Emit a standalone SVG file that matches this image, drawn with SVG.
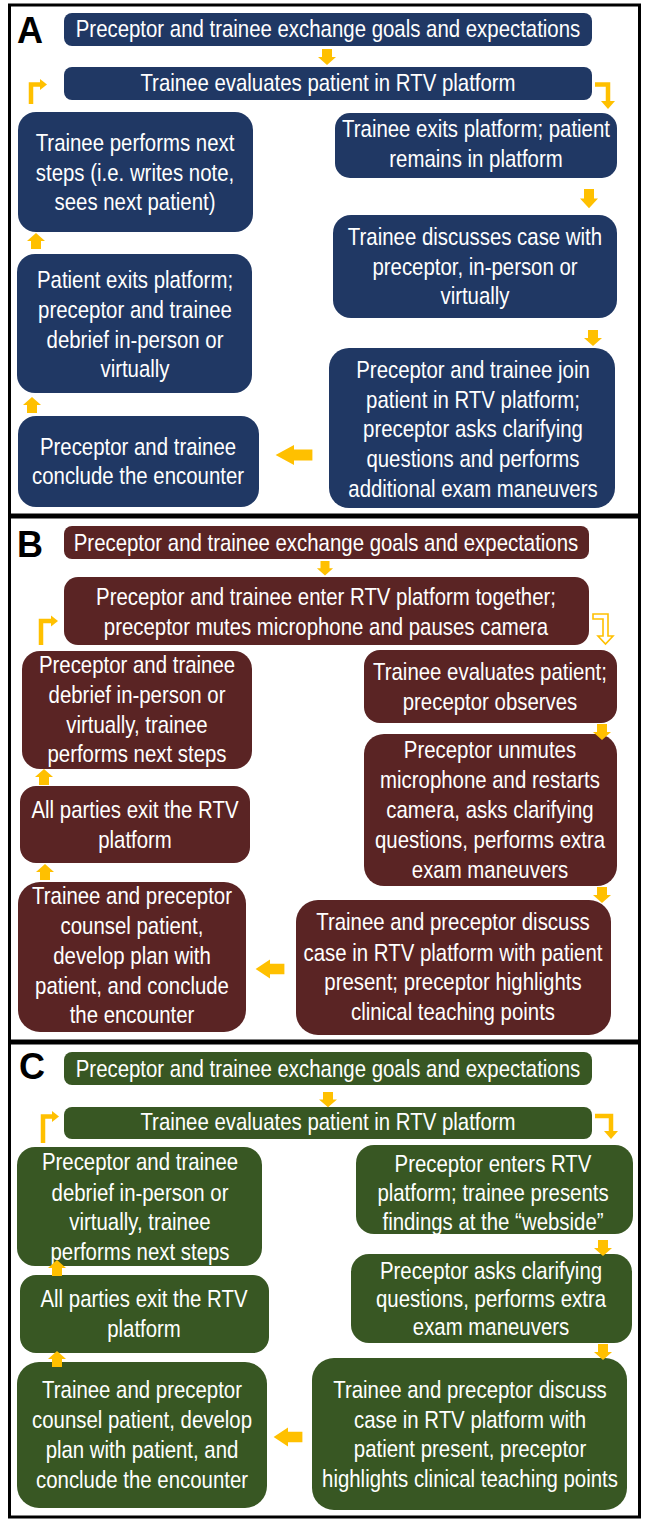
<svg xmlns="http://www.w3.org/2000/svg" width="645" height="1523" viewBox="0 0 645 1523">
<style>
.panel{fill:#fff;stroke:#000;stroke-width:3}
.a{fill:#203864}
.b{fill:#5a2424}
.c{fill:#385723}
.t{font-family:"Liberation Sans",Arial,sans-serif;font-size:24px;fill:#fff;text-anchor:middle}
.lbl{font-family:"Liberation Sans",Arial,sans-serif;font-size:36px;font-weight:bold;fill:#000}
.y{fill:#FFC000}
.el{fill:none;stroke:#FFC000;stroke-width:4.5}
</style>
<defs>
<path id="dn" d="M-5,0 H5 V8 H9 L0,16 L-9,8 H-5 Z"/>
</defs>
<rect width="645" height="1523" fill="#fff"/>
<g id="panels">
<rect class="panel" x="9.5" y="5" width="630" height="510"/>
<rect class="panel" x="9.5" y="517" width="630" height="524"/>
<rect class="panel" x="9.5" y="1043" width="630" height="474"/>
<text class="lbl" x="17" y="43">A</text>
<text class="lbl" x="17" y="557">B</text>
<text class="lbl" x="19" y="1079">C</text>
</g>

<g id="A1"><rect class="a" x="64" y="13" width="528" height="33" rx="8"/>
<g transform="translate(328 0) scale(0.85 1)"><text class="t" x="0" y="37">Preceptor and trainee exchange goals and expectations</text></g></g>
<g id="A2"><rect class="a" x="64" y="67" width="528" height="33" rx="8"/>
<g transform="translate(328 0) scale(0.85 1)"><text class="t" x="0" y="91">Trainee evaluates patient in RTV platform</text></g></g>
<g id="A3"><rect class="a" x="18" y="112" width="235" height="120" rx="18"/>
<g transform="translate(135 0) scale(0.85 1)"><text class="t"><tspan x="0" y="151">Trainee performs next</tspan><tspan x="0" y="181">steps (i.e. writes note,</tspan><tspan x="0" y="210">sees next patient)</tspan></text></g></g>
<g id="A4"><rect class="a" x="335" y="113" width="282" height="65" rx="15"/>
<g transform="translate(476 0) scale(0.85 1)"><text class="t"><tspan x="0" y="137">Trainee exits platform; patient</tspan><tspan x="0" y="167">remains in platform</tspan></text></g></g>
<g id="A5"><rect class="a" x="333" y="215" width="284" height="103" rx="18"/>
<g transform="translate(475 0) scale(0.85 1)"><text class="t"><tspan x="0" y="245">Trainee discusses case with</tspan><tspan x="0" y="275">preceptor, in-person or</tspan><tspan x="0" y="304">virtually</tspan></text></g></g>
<g id="A6"><rect class="a" x="329" y="348" width="286" height="160" rx="20"/>
<g transform="translate(473 0) scale(0.85 1)"><text class="t"><tspan x="0" y="378">Preceptor and trainee join</tspan><tspan x="0" y="408">patient in RTV platform;</tspan><tspan x="0" y="437">preceptor asks clarifying</tspan><tspan x="0" y="467">questions and performs</tspan><tspan x="0" y="497">additional exam maneuvers</tspan></text></g></g>
<g id="A7"><rect class="a" x="18" y="416" width="241" height="91" rx="18"/>
<g transform="translate(138 0) scale(0.85 1)"><text class="t"><tspan x="0" y="455">Preceptor and trainee</tspan><tspan x="0" y="484">conclude the encounter</tspan></text></g></g>
<g id="A8"><rect class="a" x="17" y="254" width="235" height="139" rx="18"/>
<g transform="translate(135 0) scale(0.85 1)"><text class="t"><tspan x="0" y="288">Patient exits platform;</tspan><tspan x="0" y="318">preceptor and trainee</tspan><tspan x="0" y="348">debrief in-person or</tspan><tspan x="0" y="377">virtually</tspan></text></g></g>

<g id="B1"><rect class="b" x="64" y="526" width="525" height="33" rx="8"/>
<g transform="translate(326 0) scale(0.85 1)"><text class="t" x="0" y="551">Preceptor and trainee exchange goals and expectations</text></g></g>
<g id="B2"><rect class="b" x="64" y="577" width="525" height="68" rx="14"/>
<g transform="translate(326 0) scale(0.85 1)"><text class="t"><tspan x="0" y="605">Preceptor and trainee enter RTV platform together;</tspan><tspan x="0" y="635">preceptor mutes microphone and pauses camera</tspan></text></g></g>
<g id="B3"><rect class="b" x="22" y="651" width="230" height="118" rx="18"/>
<g transform="translate(137 0) scale(0.85 1)"><text class="t"><tspan x="0" y="673">Preceptor and trainee</tspan><tspan x="0" y="703">debrief in-person or</tspan><tspan x="0" y="733">virtually, trainee</tspan><tspan x="0" y="762">performs next steps</tspan></text></g></g>
<g id="B4"><rect class="b" x="364" y="650" width="253" height="73" rx="16"/>
<g transform="translate(490 0) scale(0.85 1)"><text class="t"><tspan x="0" y="680">Trainee evaluates patient;</tspan><tspan x="0" y="710">preceptor observes</tspan></text></g></g>
<g id="B5"><rect class="b" x="364" y="734" width="253" height="152" rx="20"/>
<g transform="translate(490 0) scale(0.85 1)"><text class="t"><tspan x="0" y="758">Preceptor unmutes</tspan><tspan x="0" y="788">microphone and restarts</tspan><tspan x="0" y="818">camera, asks clarifying</tspan><tspan x="0" y="848">questions, performs extra</tspan><tspan x="0" y="878">exam maneuvers</tspan></text></g></g>
<g id="B6"><rect class="b" x="296" y="900" width="315" height="135" rx="22"/>
<g transform="translate(453 0) scale(0.85 1)"><text class="t"><tspan x="0" y="930">Trainee and preceptor discuss</tspan><tspan x="0" y="961">case in RTV platform with patient</tspan><tspan x="0" y="990">present; preceptor highlights</tspan><tspan x="0" y="1020">clinical teaching points</tspan></text></g></g>
<g id="B7"><rect class="b" x="18" y="882" width="228" height="150" rx="22"/>
<g transform="translate(132 0) scale(0.85 1)"><text class="t"><tspan x="0" y="904">Trainee and preceptor</tspan><tspan x="0" y="934">counsel patient,</tspan><tspan x="0" y="964">develop plan with</tspan><tspan x="0" y="994">patient, and conclude</tspan><tspan x="0" y="1023">the encounter</tspan></text></g></g>
<g id="B8"><rect class="b" x="20" y="786" width="230" height="77" rx="16"/>
<g transform="translate(135 0) scale(0.85 1)"><text class="t"><tspan x="0" y="818">All parties exit the RTV</tspan><tspan x="0" y="848">platform</tspan></text></g></g>

<g id="C1"><rect class="c" x="64" y="1052" width="528" height="33" rx="8"/>
<g transform="translate(328 0) scale(0.85 1)"><text class="t" x="0" y="1077">Preceptor and trainee exchange goals and expectations</text></g></g>
<g id="C2"><rect class="c" x="64" y="1107" width="528" height="32" rx="8"/>
<g transform="translate(328 0) scale(0.85 1)"><text class="t" x="0" y="1130">Trainee evaluates patient in RTV platform</text></g></g>
<g id="C3"><rect class="c" x="17" y="1147" width="245" height="119" rx="18"/>
<g transform="translate(140 0) scale(0.85 1)"><text class="t"><tspan x="0" y="1170">Preceptor and trainee</tspan><tspan x="0" y="1201">debrief in-person or</tspan><tspan x="0" y="1230">virtually, trainee</tspan><tspan x="0" y="1260">performs next steps</tspan></text></g></g>
<g id="C4"><rect class="c" x="356" y="1145" width="277" height="89" rx="18"/>
<g transform="translate(493 0) scale(0.85 1)"><text class="t"><tspan x="0" y="1172">Preceptor enters RTV</tspan><tspan x="0" y="1201">platform; trainee presents</tspan><tspan x="0" y="1230">findings at the “webside”</tspan></text></g></g>
<g id="C5"><rect class="c" x="351" y="1254" width="281" height="89" rx="18"/>
<g transform="translate(491 0) scale(0.85 1)"><text class="t"><tspan x="0" y="1279">Preceptor asks clarifying</tspan><tspan x="0" y="1307">questions, performs extra</tspan><tspan x="0" y="1335">exam maneuvers</tspan></text></g></g>
<g id="C6"><rect class="c" x="312" y="1358" width="315" height="152" rx="22"/>
<g transform="translate(470 0) scale(0.85 1)"><text class="t"><tspan x="0" y="1398">Trainee and preceptor discuss</tspan><tspan x="0" y="1428">case in RTV platform with</tspan><tspan x="0" y="1457">patient present, preceptor</tspan><tspan x="0" y="1487">highlights clinical teaching points</tspan></text></g></g>
<g id="C7"><rect class="c" x="17" y="1362" width="250" height="146" rx="22"/>
<g transform="translate(142 0) scale(0.85 1)"><text class="t"><tspan x="0" y="1398">Trainee and preceptor</tspan><tspan x="0" y="1428">counsel patient, develop</tspan><tspan x="0" y="1458">plan with patient, and</tspan><tspan x="0" y="1488">conclude the encounter</tspan></text></g></g>
<g id="C8"><rect class="c" x="20" y="1275" width="249" height="78" rx="16"/>
<g transform="translate(144 0) scale(0.85 1)"><text class="t"><tspan x="0" y="1307">All parties exit the RTV</tspan><tspan x="0" y="1337">platform</tspan></text></g></g>

<g id="connectors">
<!-- A -->
<use href="#dn" class="y" transform="translate(327 49)"/>
<path class="el" d="M31,104 V84.5 H41"/><path class="y" d="M40,79 L47,84.5 L40,90 Z"/>
<path class="el" d="M595,84.5 H608 V102"/><path class="y" d="M601,101 H615 L608,109 Z"/>
<use href="#dn" class="y" transform="translate(589 189) scale(1 1.2)"/>
<use href="#dn" class="y" transform="translate(593 330)"/>
<use href="#dn" class="y" transform="translate(294 455) rotate(90) scale(1.1 2.3) translate(0 -8)"/>
<use href="#dn" class="y" transform="translate(32 413) rotate(180)"/>
<use href="#dn" class="y" transform="translate(36 249) rotate(180)"/>
<!-- B -->
<use href="#dn" class="y" transform="translate(325 561) scale(0.9 0.9)"/>
<path class="el" d="M41,645 V621 H52"/><path class="y" d="M51,615.5 L58,621 L51,626.5 Z"/>
<path d="M593,614 H608 V636 H613 L605.5,644 L598,636 H603 V619 H593 Z" fill="#fff" stroke="#FFC000" stroke-width="1.6"/>
<use href="#dn" class="y" transform="translate(602 724)"/>
<use href="#dn" class="y" transform="translate(602 887)"/>
<use href="#dn" class="y" transform="translate(270 969) rotate(90) scale(1.05 1.8) translate(0 -8)"/>
<use href="#dn" class="y" transform="translate(45 880) rotate(180)"/>
<use href="#dn" class="y" transform="translate(44 785) rotate(180)"/>
<!-- C -->
<use href="#dn" class="y" transform="translate(328 1092) scale(1 0.95)"/>
<path class="el" d="M43,1143 V1116.5 H53"/><path class="y" d="M52,1111 L59,1116.5 L52,1122 Z"/>
<path class="el" d="M595,1116 H611 V1132"/><path class="y" d="M604,1131 H618 L611,1139 Z"/>
<use href="#dn" class="y" transform="translate(603 1240)"/>
<use href="#dn" class="y" transform="translate(603 1344)"/>
<use href="#dn" class="y" transform="translate(288 1437) rotate(90) scale(1.05 1.8) translate(0 -8)"/>
<use href="#dn" class="y" transform="translate(57 1367) rotate(180)"/>
<use href="#dn" class="y" transform="translate(57 1276) rotate(180)"/>
</g>
</svg>
